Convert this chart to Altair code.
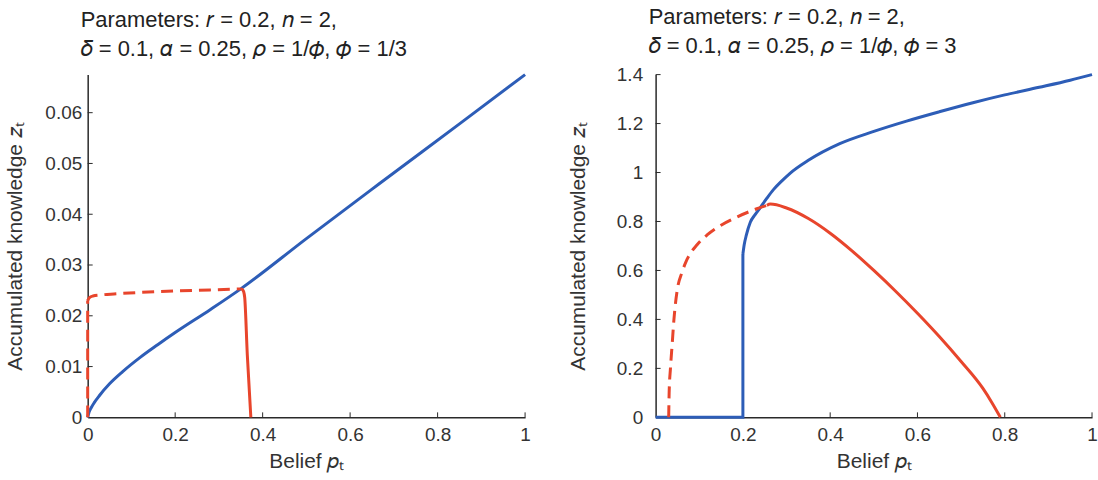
import altair as alt
import pandas as pd

# ---- left panel (phi = 1/3) ----
left_blue_x = [0, 0.003, 0.008, 0.015, 0.027, 0.05, 0.08, 0.12, 0.16, 0.2, 0.28, 0.35, 0.5, 0.665, 0.85, 1.0]
left_blue_y = [0, 0.0010, 0.0019, 0.0029, 0.0043, 0.0066, 0.0090, 0.0118, 0.0143, 0.0167, 0.0212, 0.0253, 0.0352, 0.0459, 0.0578, 0.0675]

# vertical dashed piece at p = 0, then the nearly flat dashed curve
left_dash_vert_x = [0, 0]
left_dash_vert_y = [0, 0.0230]
left_dash_x = [0, 0.004, 0.012, 0.03, 0.06, 0.12, 0.2, 0.28, 0.35]
left_dash_y = [0.0230, 0.0236, 0.0239, 0.0241, 0.0243, 0.0246, 0.0249, 0.0251, 0.0253]

left_solid_x = [0.350, 0.3535, 0.3565, 0.359, 0.365, 0.373]
left_solid_y = [0.0253, 0.0252, 0.0248, 0.0236, 0.0122, 0]

left_yticks = [0, 0.01, 0.02, 0.03, 0.04, 0.05, 0.06]

# ---- right panel (phi = 3) ----
right_step_x = [0, 0.2, 0.2]
right_step_y = [0, 0, 0.667]
right_blue_x = [0.2, 0.203, 0.208, 0.217, 0.228, 0.24, 0.255, 0.27, 0.29, 0.308, 0.35, 0.422, 0.5, 0.575, 0.65, 0.727, 0.8, 0.879, 0.95, 1.0]
right_blue_y = [0.667, 0.705, 0.745, 0.797, 0.828, 0.857, 0.895, 0.93, 0.967, 0.997, 1.05, 1.118, 1.168, 1.21, 1.248, 1.285, 1.317, 1.348, 1.377, 1.4]

right_dash_x = [0.030, 0.031, 0.034, 0.038, 0.042, 0.05, 0.06, 0.072, 0.095, 0.118, 0.15, 0.186, 0.232, 0.255]
right_dash_y = [0, 0.1, 0.2, 0.3, 0.40, 0.525, 0.59, 0.645, 0.705, 0.745, 0.785, 0.818, 0.852, 0.866]

right_solid_x = [0.255, 0.263, 0.30, 0.35, 0.40, 0.45, 0.50, 0.55, 0.60, 0.65, 0.70, 0.75, 0.77, 0.79]
right_solid_y = [0.866, 0.871, 0.855, 0.812, 0.752, 0.680, 0.600, 0.515, 0.425, 0.330, 0.228, 0.118, 0.062, 0]

right_yticks = [0, 0.2, 0.4, 0.6, 0.8, 1.0, 1.2, 1.4]

x_ticks = [0, 0.2, 0.4, 0.6, 0.8, 1.0]

BLUE = "#2d5db7"
RED = "#e8452c"
AXIS = "#2a2a2a"
FONT = "Liberation Sans"

X_TITLE = "Belief 𝑝ₜ"
Y_TITLE = "Accumulated knowledge 𝑧ₜ"


def series(xs, ys):
    return pd.DataFrame({"p": xs, "z": ys, "i": range(len(xs))})


def line(df, color, dash=None, smooth=True):
    kw = dict(color=color, strokeWidth=3, clip=False, interpolate="monotone" if smooth else "linear")
    if dash:
        kw["strokeDash"] = dash
    return alt.Chart(df).mark_line(**kw).encode(x="p:Q", y="z:Q", order=alt.Order("i:Q"))


def panel(layers, yticks, ymax, width, height, title, label_pad, title_pad):
    xs = alt.Scale(domain=[0, 1], nice=False)
    ys = alt.Scale(domain=[0, ymax], nice=False)

    # inward-pointing tick marks along both axes; this layer also carries the axes
    ytick_marks = alt.Chart(pd.DataFrame({"z": yticks[1:]})).mark_rule(color=AXIS, strokeWidth=1).encode(
        y=alt.Y("z:Q", scale=ys, axis=alt.Axis(values=yticks, title=Y_TITLE, labelPadding=label_pad,
                                               titlePadding=title_pad, format="~g", labelFlush=False)),
        x=alt.value(0), x2=alt.value(5))
    xtick_marks = alt.Chart(pd.DataFrame({"p": x_ticks[1:]})).mark_rule(color=AXIS, strokeWidth=1).encode(
        x=alt.X("p:Q", scale=xs, axis=alt.Axis(values=x_ticks, title=X_TITLE, labelPadding=8,
                                               titlePadding=6, format="~g", labelFlush=False)),
        y=alt.value(height), y2=alt.value(height - 5))

    return alt.layer(ytick_marks, xtick_marks, *layers).properties(
        width=width, height=height,
        title=alt.TitleParams(title, anchor="start", frame="group", dx=-7, fontSize=22,
                              fontWeight="normal", lineHeight=29, offset=8, font=FONT,
                              color="#222222"),
    )


left = panel(
    [line(series(left_blue_x, left_blue_y), BLUE),
     line(series(left_dash_vert_x, left_dash_vert_y), RED, dash=[12, 7], smooth=False),
     line(series(left_dash_x, left_dash_y), RED, dash=[12, 7]),
     line(series(left_solid_x, left_solid_y), RED)],
    left_yticks, 0.0675, 439, 344,
    ["Parameters: 𝑟 = 0.2, 𝑛 = 2,", "𝛿 = 0.1, 𝛼 = 0.25, 𝜌 = 1/𝜙, 𝜙 = 1/3"], 6, 19)

right = panel(
    [line(series(right_step_x, right_step_y), BLUE, smooth=False),
     line(series(right_blue_x, right_blue_y), BLUE),
     line(series(right_dash_x, right_dash_y), RED, dash=[12, 7]),
     line(series(right_solid_x, right_solid_y), RED)],
    right_yticks, 1.4, 438, 344,
    ["Parameters: 𝑟 = 0.2, 𝑛 = 2,", "𝛿 = 0.1, 𝛼 = 0.25, 𝜌 = 1/𝜙, 𝜙 = 3"], 13, 28)

chart = alt.hconcat(left, right, spacing=36).properties(
    padding={"left": 5, "top": 5, "right": 0, "bottom": 5},
).configure(background="white").configure_axis(
    grid=False, ticks=False, domainColor=AXIS, domainWidth=1.5, zindex=0,
    labelFont=FONT, labelFontSize=19, labelColor="#333333",
    titleFont=FONT, titleFontSize=21, titleFontWeight="normal", titleColor="#333333",
).configure_view(stroke=None)

chart.save("out.html", embed_options={"renderer": "svg", "actions": False})
